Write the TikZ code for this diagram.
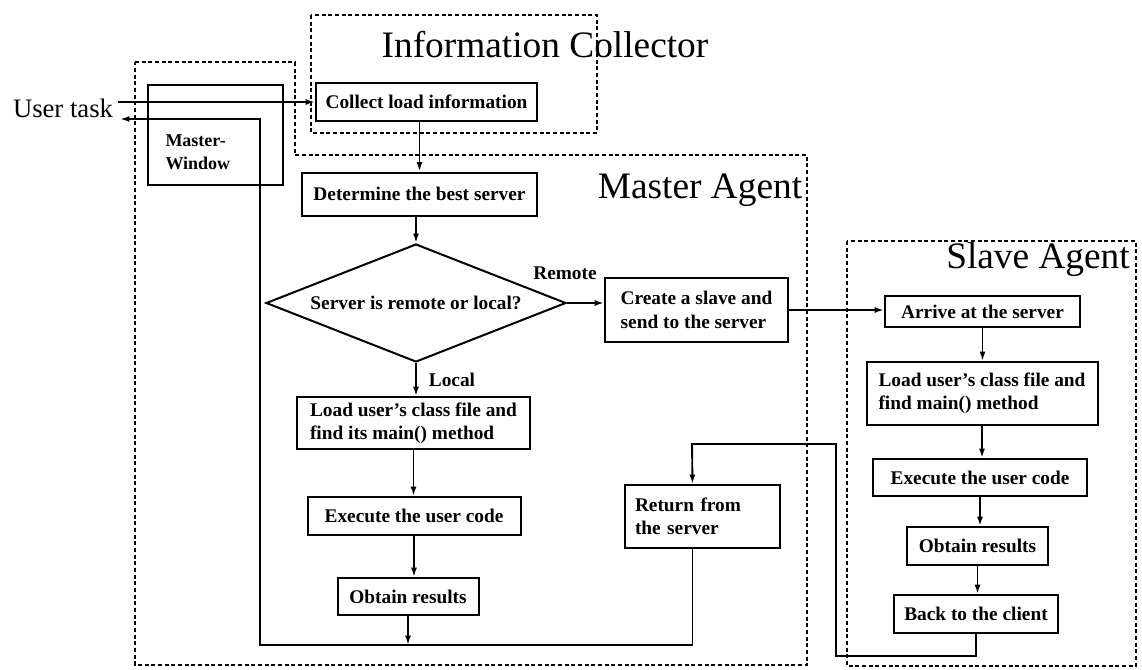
\documentclass[tikz,border=0pt]{standalone}
\usepackage{fontspec}
\setmainfont{Liberation Serif}
\usetikzlibrary{arrows.meta,shapes.geometric}

\tikzset{every picture/.style={line width=0.75pt}}
\tikzset{
  box/.style={draw,line width=1.5pt,inner sep=0pt,align=left,
    font=\fontsize{14.5}{17.5}\bfseries\selectfont},
  size/.style 2 args={minimum width=#1*0.75pt,minimum height=#2*0.75pt},
  flow/.style={line width=1.4pt,-{Latex[length=7pt,width=4.5pt]}},
  frame/.style={line width=1.2pt,dash pattern=on 3pt off 2pt},
  heading/.style={inner sep=0pt,font=\fontsize{28}{32}\selectfont},
  tag/.style={inner sep=0pt,font=\fontsize{14.5}{17}\bfseries\selectfont}
}

\begin{document}
\begin{tikzpicture}[x=0.75pt,y=0.75pt,yscale=-1,xscale=1]
\useasboundingbox (0,0) rectangle (1142,669);

%Shape: Dashed frames
\draw[frame] (311,15) rectangle (597,133);
\draw[frame] (135,62) -- (295,62) -- (295,155) -- (807,155) -- (807,665) -- (135,665) -- cycle;
\draw[frame] (847,241) rectangle (1136,666);

% Headings
\node[heading] (infotitle) at (545,45) {Information Collector};
\node[heading] (mastertitle) at (700,190) {Master Agent};
\node[heading] (slavetitle) at (1038,260) {Slave Agent};
\node[inner sep=0pt,font=\fontsize{20}{24}\selectfont] (usertask) at (63,108) {User task};

%Shape: Master-Window
\node[draw,line width=1.5pt,size={135}{100}] (mwin) at (215.5,135) {};
\node[tag,align=left,anchor=west,font=\fontsize{13.5}{17}\bfseries\selectfont] (mwintext) at (165,152) {Master-\\Window};

%Shape: Master Agent boxes
\node[box,size={221}{38}] (collect) at (426.5,102) {Collect load information};
\node[box,size={235}{43}] (determine) at (419.5,194) {Determine the best server};
\node[box,diamond,aspect=2.55,size={300}{118}] (decide) at (416,303) {Server is remote or local?};
\node[box,size={183}{64}] (create) at (696.5,310) {Create a slave and\\send to the server};
\node[box,size={233}{52}] (mload) at (413.5,423) {Load user's class file and\\find its main() method};
\node[box,size={213}{38}] (mexec) at (414,516) {Execute the user code};
\node[box,size={141}{37}] (mobtain) at (408,596.5) {Obtain results};
\node[box,size={155}{63},text width=135*0.75pt] (mret) at (702.5,516.5) {Return from\\the server};

%Shape: Slave Agent boxes
\node[box,size={195}{31}] (arrive) at (982.5,311.5) {Arrive at the server};
\node[box,size={231}{63}] (sload) at (982,393.5) {Load user's class file and\\find main() method};
\node[box,size={214}{37}] (sexec) at (980,477.5) {Execute the user code};
\node[box,size={141}{38}] (sobtain) at (977.5,546) {Obtain results};
\node[box,size={164}{38}] (back) at (976,614) {Back to the client};

% Labels
\node[tag] (remote) at (565,273) {Remote};
\node[tag] (local) at (452,380) {Local};

% Connectors
\coordinate (utin) at (118,102);
\coordinate (utout) at (120,119);
\coordinate (loopL) at (260,645);
\coordinate (loopB) at (836,656);
\coordinate (loopT) at (692,444);

\draw[flow] (utin) -- (collect.west);
\draw[flow] (determine.north |- collect.south) -- (determine.north);
\draw[flow] (decide.north |- determine.south) -- (decide.north);
\draw[flow] (decide.east) -- (decide.east -| create.west);
\draw[flow] (decide.south) -- (decide.south |- mload.north);
\draw[flow] (mload.south) -- (mload.south |- mexec.north);
\draw[flow] (mexec.south) -- (mexec.south |- mobtain.north);
\draw[flow] (mobtain.south) -- (mobtain.south |- loopL);
\draw[flow] (create.east) -- (create.east -| arrive.west);
\draw[flow] (arrive.south) -- (arrive.south |- sload.north);
\draw[flow] (sload.south) -- (sload.south |- sexec.north);
\draw[flow] (sexec.south) -- (sexec.south |- sobtain.north);
\draw[flow] (sobtain.south) -- (sobtain.south |- back.north);
\draw[flow] (back.south) |- (loopB) |- (loopT) -- ([xshift=-7.5pt]mret.north);
\draw[flow] ([xshift=-7.5pt]mret.south) |- (loopL) |- (utout);

\end{tikzpicture}
\end{document}
